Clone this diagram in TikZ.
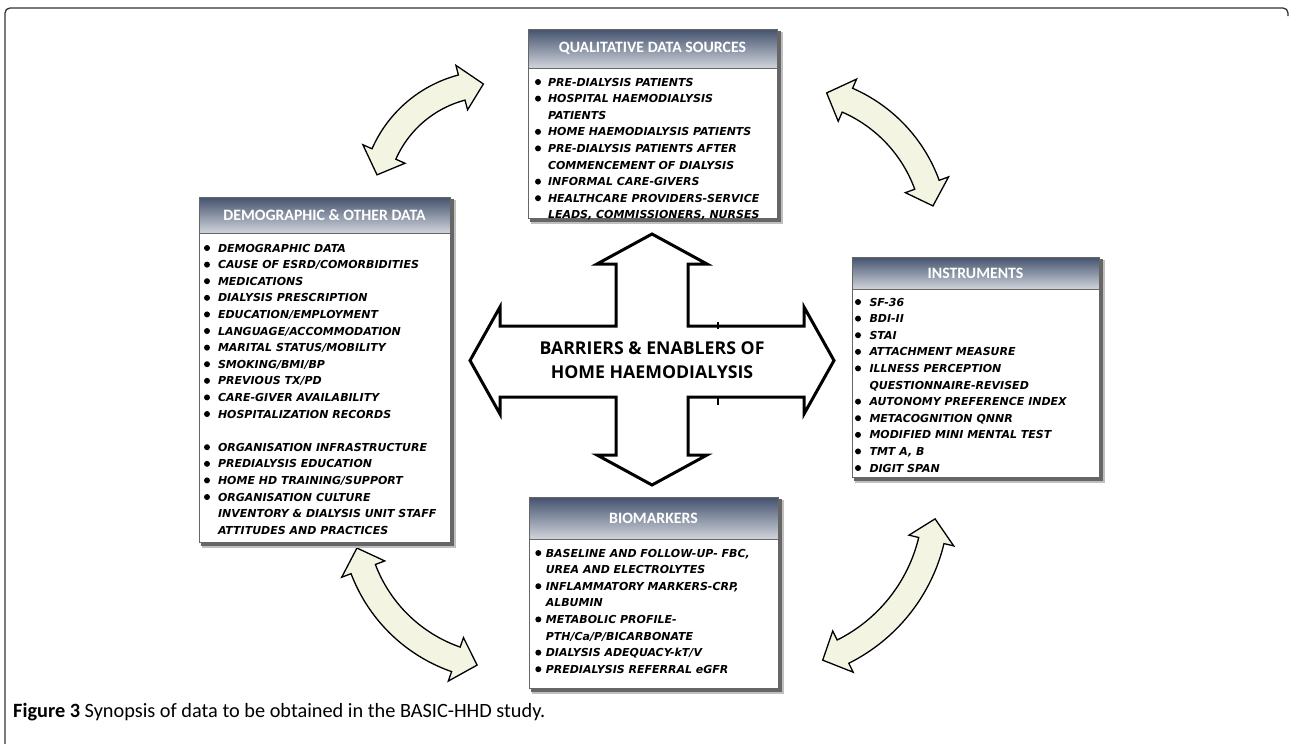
\documentclass[tikz,border=0pt]{standalone}
\usepackage{fontspec}
\setmainfont{Carlito}
\newfontfamily\itemfont{DejaVu Sans}
\newfontfamily\ctrfont{Open Sans}
\definecolor{hdtop}{RGB}{68,82,110}
\definecolor{hdbot}{RGB}{208,212,219}
\definecolor{cream}{RGB}{243,244,226}
\newcommand\bul{\raisebox{1pt}{\tikz\fill[black] (0,0) circle[radius=3pt];}}
\newcommand\mkbox[7]{%
  \fill[black!25] (#2+3,#3+3) rectangle (#4+6,#5+6);
  \fill[black!60] (#2+2,#3+2) rectangle (#4+4,#5+4);
  \fill[white] (#2,#3) rectangle (#4,#5);
  \fill[top color=hdtop, bottom color=hdbot] (#2,#3) rectangle (#4,#6);
  \draw[black!60, line width=0.8] (#2,#3) rectangle (#4,#5) (#2,#6) -- (#4,#6);
  \node[hdr] (#1) at ({(#2+#4)/2},{(#3+#6)/2}) {#7};}
\newcommand\carrow[5]{%
  \pgfmathsetmacro\ca{#4}\pgfmathsetmacro\cb{#5}%
  \pgfmathsetmacro\dl{sign(\cb-\ca)*22/#3*57.2958}%
  \pgfmathsetmacro\sa{\ca+\dl}\pgfmathsetmacro\sb{\cb-\dl}%
  \pgfmathsetmacro\ro{#3+13}\pgfmathsetmacro\ri{#3-13}%
  \pgfmathsetmacro\rOH{#3+23}\pgfmathsetmacro\rIH{#3-23}%
  \draw[curvy] plot[domain=\sa:\sb,samples=40] ({#1+\ro*cos(\x)},{#2+\ro*sin(\x)})
    -- ({#1+\rOH*cos(\sb)},{#2+\rOH*sin(\sb)})
    -- ({#1+#3*cos(\cb)},{#2+#3*sin(\cb)})
    -- ({#1+\rIH*cos(\sb)},{#2+\rIH*sin(\sb)})
    -- plot[domain=\sb:\sa,samples=40] ({#1+\ri*cos(\x)},{#2+\ri*sin(\x)})
    -- ({#1+\rIH*cos(\sa)},{#2+\rIH*sin(\sa)})
    -- ({#1+#3*cos(\ca)},{#2+#3*sin(\ca)})
    -- ({#1+\rOH*cos(\sa)},{#2+\rOH*sin(\sa)}) -- cycle;}
\begin{document}
\begin{tikzpicture}[x=1pt,y=-1pt,
  hdr/.style={text=white, font=\bfseries\fontsize{15.8}{18}\selectfont, inner sep=0},
  body/.style={font=\itemfont\bfseries\itshape\fontsize{11}{16.6}\selectfont, inner sep=0, outer sep=0, anchor=north west},
  curvy/.style={draw=black, line width=1.3, fill=cream, line join=miter},
  cross/.style={draw=black, line width=3, fill=white, line join=miter}]
\useasboundingbox (0,0) rectangle (1290,744);
\fill[white] (0,0) rectangle (1290,744);
% outer frame
\draw[black!80, line width=1.3, rounded corners=5] (5,744) -- (5,8) -- (1288,8) -- (1288,16);

% curved arrows
\carrow{491.6}{201.3}{117.6}{-167}{-94}
\carrow{788.5}{235.3}{147.4}{-75}{-11.5}
\carrow{506.3}{514.9}{153}{101}{167.5}
\carrow{768}{501.3}{168}{6}{71}

% boxes
\mkbox{qual}{528}{29}{777}{218}{68}{QUALITATIVE DATA SOURCES}
\mkbox{demo}{199}{197}{450}{542}{233}{DEMOGRAPHIC \& OTHER DATA}
\mkbox{instr}{852}{257}{1099}{477}{289}{INSTRUMENTS}
\mkbox{bio}{529}{497}{778}{688}{539}{BIOMARKERS}

\node[body] (qualtxt) at (535,74.4) {\begin{tabular}{@{}c@{\hspace{7pt}}l@{}}
\bul & PRE-DIALYSIS PATIENTS\\
\bul & HOSPITAL HAEMODIALYSIS\\
 & PATIENTS\\
\bul & HOME HAEMODIALYSIS PATIENTS\\
\bul & PRE-DIALYSIS PATIENTS AFTER\\
 & COMMENCEMENT OF DIALYSIS\\
\bul & INFORMAL CARE-GIVERS\\
\bul & HEALTHCARE PROVIDERS-SERVICE\\
 & LEADS, COMMISSIONERS, NURSES
\end{tabular}};

\node[body] (demotxt) at (204,240.4) {\begin{tabular}{@{}c@{\hspace{8pt}}l@{}}
\bul & DEMOGRAPHIC DATA\\
\bul & CAUSE OF ESRD/COMORBIDITIES\\
\bul & MEDICATIONS\\
\bul & DIALYSIS PRESCRIPTION\\
\bul & EDUCATION/EMPLOYMENT\\
\bul & LANGUAGE/ACCOMMODATION\\
\bul & MARITAL STATUS/MOBILITY\\
\bul & SMOKING/BMI/BP\\
\bul & PREVIOUS TX/PD\\
\bul & CARE-GIVER AVAILABILITY\\
\bul & HOSPITALIZATION RECORDS\\
 & \\
\bul & ORGANISATION INFRASTRUCTURE\\
\bul & PREDIALYSIS EDUCATION\\
\bul & HOME HD TRAINING/SUPPORT\\
\bul & ORGANISATION CULTURE\\
 & INVENTORY \& DIALYSIS UNIT STAFF\\
 & ATTITUDES AND PRACTICES
\end{tabular}};

\node[body] (instrtxt) at (855,294.4) {\begin{tabular}{@{}c@{\hspace{8.5pt}}l@{}}
\bul & SF-36\\
\bul & BDI-II\\
\bul & STAI\\
\bul & ATTACHMENT MEASURE\\
\bul & ILLNESS PERCEPTION\\
 & QUESTIONNAIRE-REVISED\\
\bul & AUTONOMY PREFERENCE INDEX\\
\bul & METACOGNITION QNNR\\
\bul & MODIFIED MINI MENTAL TEST\\
\bul & TMT A, B\\
\bul & DIGIT SPAN
\end{tabular}};

\node[body] (biotxt) at (535.3,545.4) {\begin{tabular}{@{}c@{\hspace{4.5pt}}l@{}}
\bul & BASELINE AND FOLLOW-UP- FBC,\\
 & UREA AND ELECTROLYTES\\
\bul & INFLAMMATORY MARKERS-CRP,\\
 & ALBUMIN\\
\bul & METABOLIC PROFILE-\\
 & PTH/Ca/P/BICARBONATE\\
\bul & DIALYSIS ADEQUACY-kT/V\\
\bul & PREDIALYSIS REFERRAL eGFR
\end{tabular}};

% central cross arrow
\draw[cross] (652,234) -- (707,264) -- (688,264) -- (688,326) -- (804,326) -- (804,307)
  -- (834,360.5) -- (804,414) -- (804,397) -- (688,397) -- (688,455) -- (707,455)
  -- (652,485) -- (597,455) -- (616,455) -- (616,397) -- (500,397) -- (500,414)
  -- (470,360.5) -- (500,307) -- (500,326) -- (616,326) -- (616,264) -- (597,264) -- cycle;
\draw[line width=1.5] (718,322) -- (718,329) (718,398) -- (718,405);
\node[font=\ctrfont\bfseries\fontsize{17.7}{24}\selectfont, align=center, inner sep=0] (ctr) at (652,360)
  {BARRIERS \& ENABLERS OF\\HOME HAEMODIALYSIS};

\node[anchor=west, inner sep=0, font=\fontsize{20.3}{24}\selectfont] (cap) at (13,712)
  {\textbf{Figure 3} Synopsis of data to be obtained in the BASIC-HHD study.};
\end{tikzpicture}
\end{document}
